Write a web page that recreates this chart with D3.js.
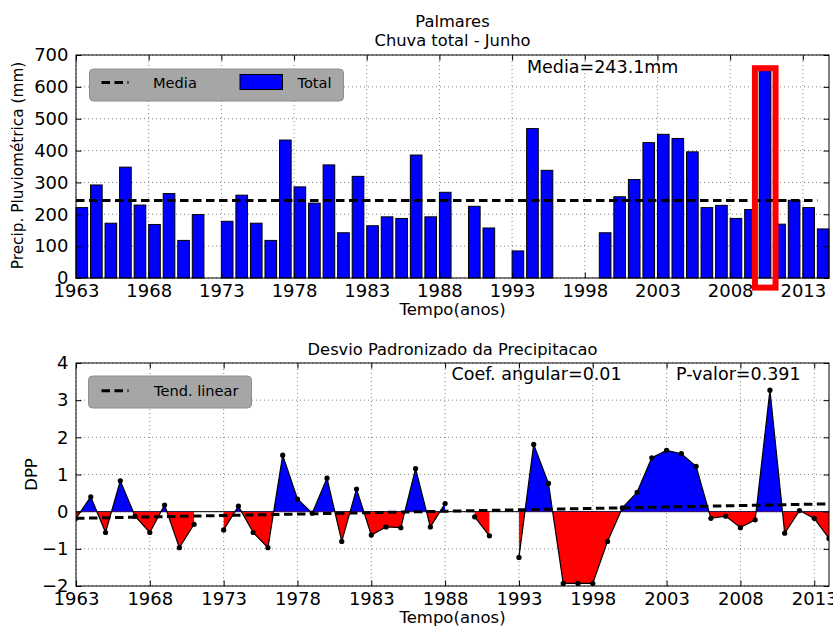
<!DOCTYPE html>
<html>
<head>
<meta charset="utf-8">
<script src="https://cdn.jsdelivr.net/npm/d3@7"></script>
<style>
  body { margin: 0; background: #fff; }
  svg { display: block; font-family: "DejaVu Sans", sans-serif; }
</style>
</head>
<body>
<script>
// Palmares - June rainfall, 1963..2014 (null = missing year)
const years = d3.range(1963, 2015);
const precip = [
  221, 292, 172, 348, 229, 168, 265, 118, 199, null,
  178, 260, 172, 118, 433, 286, 235, 355, 142, 319,
  164, 192, 187, 386, 192, 269, null, 225, 157, null,
  85, 469, 338, 0, 0, 0, 142, 255, 309, 425,
  451, 438, 396, 221, 228, 187, 215, 651, 169, 244,
  221, 154
];
// standardized precipitation deviation
const dpp = [
  -0.18, 0.40, -0.56, 0.83, -0.12, -0.56, 0.18, -0.97, -0.34, null,
  -0.49, 0.15, -0.56, -0.97, 1.52, 0.34, -0.04, 0.90, -0.80, 0.61,
  -0.63, -0.41, -0.43, 1.16, -0.41, 0.22, null, -0.14, -0.65, null,
  -1.23, 1.81, 0.76, -1.93, -1.93, -1.93, -0.80, 0.10, 0.52, 1.45,
  1.65, 1.56, 1.22, -0.18, -0.12, -0.43, -0.22, 3.27, -0.58, 0.03,
  -0.18, -0.72
];
const media = 243.1;
const trendYears = [1963, 2014];
const trendValues = [-0.18, 0.21];
const highlightYear = 2010;
const xTicks = d3.range(1963, 2014, 5);
const yTicksTop = d3.range(0, 701, 100);
const yTicksBot = d3.range(-2, 5, 1);

const W = 833, H = 628;
const svg = d3.select("body").append("svg").attr("width", W).attr("height", H);
svg.append("rect").attr("width", W).attr("height", H).attr("fill", "#fff");

const L = 76, R = 829;
const top1 = 55, bot1 = 278;
const top2 = 363, bot2 = 586;
const tickLen = 5.5;
const tickFont = "18px", titleFont = "16.3px", labelFont = "16.5px";
const legendFont = "14.6px", noteFont = "17.5px";

const x1 = d3.scaleLinear().domain([1963, 2014.8]).range([L, R]);
const y1 = d3.scaleLinear().domain([0, 700]).range([bot1, top1]);
const x2 = d3.scaleLinear().domain([1963, 2014]).range([L, R]);
const y2 = d3.scaleLinear().domain([-2, 4]).range([bot2, top2]);

function frame(g, x, y, yt) {
  // dotted grid
  g.append("g").selectAll("line").data(xTicks).join("line")
    .attr("x1", d => x(d)).attr("x2", d => x(d))
    .attr("y1", y.range()[0]).attr("y2", y.range()[1])
    .attr("stroke", "#333").attr("stroke-width", 0.6).attr("stroke-dasharray", "1,3");
  g.append("g").selectAll("line").data(yt).join("line")
    .attr("x1", L).attr("x2", R)
    .attr("y1", d => y(d)).attr("y2", d => y(d))
    .attr("stroke", "#333").attr("stroke-width", 0.6).attr("stroke-dasharray", "1,3");
}

function axes(g, x, y, yt) {
  const b = g.append("g").attr("transform", `translate(0,${y.range()[0]})`)
    .call(d3.axisBottom(x).tickValues(xTicks).tickFormat(d3.format("d"))
      .tickSizeInner(-tickLen).tickSizeOuter(0).tickPadding(6.5));
  const t = g.append("g").attr("transform", `translate(0,${y.range()[1]})`)
    .call(d3.axisTop(x).tickValues(xTicks).tickFormat("")
      .tickSizeInner(-tickLen).tickSizeOuter(0));
  const l = g.append("g").attr("transform", `translate(${L},0)`)
    .call(d3.axisLeft(y).tickValues(yt).tickFormat(d3.format("d"))
      .tickSizeInner(-tickLen).tickSizeOuter(0).tickPadding(7.5));
  const r = g.append("g").attr("transform", `translate(${R},0)`)
    .call(d3.axisRight(y).tickValues(yt).tickFormat("")
      .tickSizeInner(-tickLen).tickSizeOuter(0));
  [b, t, l, r].forEach(a => {
    a.select(".domain").remove();
    a.selectAll("line").attr("stroke", "#000").attr("stroke-width", 1);
    a.selectAll("text").attr("font-size", tickFont).attr("fill", "#000")
      .attr("font-family", "DejaVu Sans, sans-serif");
  });
  g.append("rect").attr("x", L).attr("y", y.range()[1])
    .attr("width", R - L).attr("height", y.range()[0] - y.range()[1])
    .attr("fill", "none").attr("stroke", "#000").attr("stroke-width", 1);
}

function legendBox(g, x, y, w, h) {
  g.append("rect").attr("x", x).attr("y", y).attr("width", w).attr("height", h)
    .attr("rx", 4).attr("fill", "#a6a6a6").attr("stroke", "#8e8e8e").attr("stroke-width", 1);
}

// ---------- top panel ----------
const g1 = svg.append("g");
frame(g1, x1, y1, yTicksTop);

const bw = 0.8;
g1.append("g").selectAll("rect")
  .data(years.map((yr, i) => ({ yr, v: precip[i] })).filter(d => d.v !== null))
  .join("rect")
  .attr("x", d => x1(d.yr))
  .attr("width", d => x1(d.yr + bw) - x1(d.yr))
  .attr("y", d => y1(d.v))
  .attr("height", d => y1(0) - y1(d.v))
  .attr("fill", "#0000ff").attr("stroke", "#000").attr("stroke-width", 1);

g1.append("line")
  .attr("x1", x1(1963)).attr("x2", x1(2014))
  .attr("y1", y1(media)).attr("y2", y1(media))
  .attr("stroke", "#000").attr("stroke-width", 3).attr("stroke-dasharray", "8.5,4.5");

axes(g1, x1, y1, yTicksTop);

// highlight box
const hi = precip[years.indexOf(highlightYear)];
g1.append("rect")
  .attr("x", x1(highlightYear) - 4.3)
  .attr("width", x1(highlightYear + bw) - x1(highlightYear) + 9)
  .attr("y", y1(hi) - 2.4)
  .attr("height", y1(0) - y1(hi) + 12)
  .attr("fill", "none").attr("stroke", "#ff0000").attr("stroke-width", 6);

legendBox(g1, 89.5, 69, 254, 32);
g1.append("line").attr("x1", 101.5).attr("x2", 128.5).attr("y1", 82.5).attr("y2", 82.5)
  .attr("stroke", "#000").attr("stroke-width", 3).attr("stroke-dasharray", "8.5,4.5");
g1.append("text").attr("x", 153).attr("y", 87.5).attr("font-size", legendFont).text("Media");
g1.append("rect").attr("x", 240).attr("y", 74.5).attr("width", 42.5).attr("height", 15)
  .attr("fill", "#0000ff").attr("stroke", "#000").attr("stroke-width", 1);
g1.append("text").attr("x", 297.5).attr("y", 87.5).attr("font-size", legendFont).text("Total");

g1.append("text").attr("x", 527).attr("y", 73.3).attr("font-size", noteFont)
  .text(`Media=${media}mm`);

g1.append("text").attr("x", (L + R) / 2).attr("y", 27.3).attr("text-anchor", "middle")
  .attr("font-size", titleFont).text("Palmares");
g1.append("text").attr("x", (L + R) / 2).attr("y", 45.6).attr("text-anchor", "middle")
  .attr("font-size", titleFont).text("Chuva total - Junho");
g1.append("text").attr("x", (L + R) / 2).attr("y", 315).attr("text-anchor", "middle")
  .attr("font-size", labelFont).text("Tempo(anos)");
g1.append("text").attr("transform", `translate(23,${(top1 + bot1) / 2 - 1}) rotate(-90)`)
  .attr("text-anchor", "middle").attr("font-size", "15.3px")
  .text("Precip. Pluviométrica (mm)");

// ---------- bottom panel ----------
const g2 = svg.append("g");
frame(g2, x2, y2, yTicksBot);

const defs = svg.append("defs");
defs.append("clipPath").attr("id", "clipAll").append("rect")
  .attr("x", L).attr("y", top2).attr("width", R - L).attr("height", bot2 - top2);
defs.append("clipPath").attr("id", "clipPos").append("rect")
  .attr("x", L).attr("y", top2).attr("width", R - L).attr("height", y2(0) - top2);
defs.append("clipPath").attr("id", "clipNeg").append("rect")
  .attr("x", L).attr("y", y2(0)).attr("width", R - L).attr("height", bot2 - y2(0));

const pts = years.map((yr, i) => ({ yr, v: dpp[i] }));
const area = d3.area().defined(d => d.v !== null)
  .x(d => x2(d.yr)).y0(y2(0)).y1(d => y2(d.v));

g2.append("line").attr("x1", L).attr("x2", R).attr("y1", y2(0)).attr("y2", y2(0))
  .attr("stroke", "#000").attr("stroke-width", 1);
g2.append("path").datum(pts).attr("d", area).attr("fill", "#0000ff")
  .attr("clip-path", "url(#clipPos)");
g2.append("path").datum(pts).attr("d", area).attr("fill", "#ff0000")
  .attr("clip-path", "url(#clipNeg)");

const plot = g2.append("g").attr("clip-path", "url(#clipAll)");
plot.append("path").datum(pts)
  .attr("d", d3.line().defined(d => d.v !== null).x(d => x2(d.yr)).y(d => y2(d.v)))
  .attr("fill", "none").attr("stroke", "#000").attr("stroke-width", 1.2);
plot.selectAll("circle").data(pts.filter(d => d.v !== null)).join("circle")
  .attr("cx", d => x2(d.yr)).attr("cy", d => y2(d.v)).attr("r", 2.6).attr("fill", "#000");

g2.append("line")
  .attr("x1", x2(trendYears[0])).attr("x2", x2(trendYears[1]))
  .attr("y1", y2(trendValues[0])).attr("y2", y2(trendValues[1]))
  .attr("stroke", "#000").attr("stroke-width", 3).attr("stroke-dasharray", "8.5,4.5");

axes(g2, x2, y2, yTicksBot);

legendBox(g2, 88.5, 376, 163, 32);
g2.append("line").attr("x1", 101.5).attr("x2", 128.5).attr("y1", 390.7).attr("y2", 390.7)
  .attr("stroke", "#000").attr("stroke-width", 3).attr("stroke-dasharray", "8.5,4.5");
g2.append("text").attr("x", 154).attr("y", 396).attr("font-size", legendFont).text("Tend. linear");

g2.append("text").attr("x", 451.5).attr("y", 380).attr("font-size", noteFont)
  .text("Coef. angular=0.01");
g2.append("text").attr("x", 676).attr("y", 380).attr("font-size", noteFont)
  .text("P-valor=0.391");

g2.append("text").attr("x", (L + R) / 2).attr("y", 354.5).attr("text-anchor", "middle")
  .attr("font-size", titleFont).text("Desvio Padronizado da Precipitacao");
g2.append("text").attr("x", (L + R) / 2).attr("y", 623).attr("text-anchor", "middle")
  .attr("font-size", labelFont).text("Tempo(anos)");
g2.append("text").attr("transform", `translate(37,${(top2 + bot2) / 2}) rotate(-90)`)
  .attr("text-anchor", "middle").attr("font-size", labelFont).text("DPP");
</script>
</body>
</html>
